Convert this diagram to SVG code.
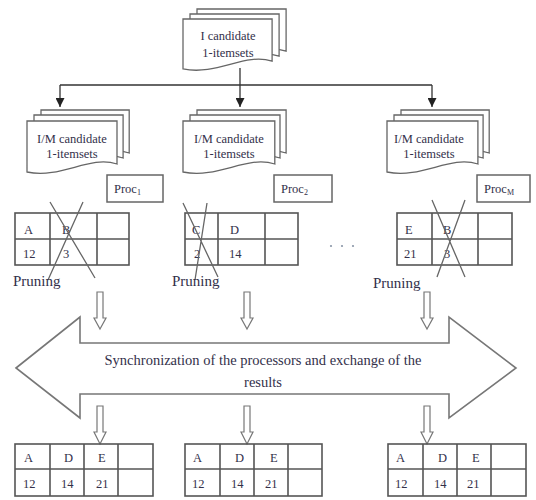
<svg xmlns="http://www.w3.org/2000/svg" width="536" height="500" viewBox="0 0 536 500">
<style>
  text { font-family: "Liberation Serif", "Times New Roman", serif; fill: #33304a; }
  .doc { fill: #fff; stroke: #666; stroke-width: 1.3; }
  .box { fill: #fff; stroke: #666; stroke-width: 1.5; }
  .grid { fill: none; stroke: #555; stroke-width: 1.6; }
  .cross { stroke: #666; stroke-width: 1.3; fill: none; }
  .conn { stroke: #333; stroke-width: 1.3; fill: none; }
  .hollow { fill: #fff; stroke: #777; stroke-width: 1.2; }
  .big { fill: #fff; stroke: #777; stroke-width: 1.6; }
  .t12 { font-size: 12.5px; }
  .t13 { font-size: 14.5px; }
  .t15 { font-size: 15px; }
</style>
<defs>
  <marker id="ah" viewBox="0 0 10 10" refX="10" refY="5" markerWidth="9" markerHeight="9" markerUnits="userSpaceOnUse" orient="auto">
    <path d="M0,0 L10,5 L0,10 Z" fill="#222"/>
  </marker>
  <path id="docShape" d="M0,0 H90 V43 C62,34 35,58 0,51 Z"/>
  <path id="hArrowUp" d="M-3,0 H3 V26 H6 L0,37 L-6,26 H-3 Z"/>
  <path id="hArrowLow" d="M-3,0 H3 V26 H6 L0,38 L-6,26 H-3 Z"/>
</defs>

<rect width="536" height="500" fill="#fff"/>

<!-- Top document -->
<g id="top-doc">
  <use href="#docShape" class="doc" transform="translate(197,9) scale(0.99,0.98)"/>
  <use href="#docShape" class="doc" transform="translate(190,14) scale(0.99,0.98)"/>
  <use href="#docShape" class="doc" transform="translate(183,19) scale(0.99,0.98)"/>
  <text class="t12" x="228" y="40" text-anchor="middle">I candidate</text>
  <text class="t12" x="228" y="57" text-anchor="middle">1-itemsets</text>
</g>

<!-- Connectors -->
<g id="connectors">
  <path class="conn" d="M240,68 V85"/>
  <path class="conn" d="M60,85 H432"/>
  <path class="conn" d="M60,85 V107" marker-end="url(#ah)"/>
  <path class="conn" d="M240,85 V107" marker-end="url(#ah)"/>
  <path class="conn" d="M432,85 V107" marker-end="url(#ah)"/>
</g>

<!-- Middle documents -->
<g id="doc-1">
  <use href="#docShape" class="doc" transform="translate(41,110) scale(0.98,1)"/>
  <use href="#docShape" class="doc" transform="translate(34,115) scale(0.99,1)"/>
  <use href="#docShape" class="doc" transform="translate(27,121)"/>
  <text class="t12" x="72" y="143" text-anchor="middle">I/M candidate</text>
  <text class="t12" x="72" y="158" text-anchor="middle">1-itemsets</text>
</g>
<g id="doc-2">
  <use href="#docShape" class="doc" transform="translate(197,110) scale(0.99,1)"/>
  <use href="#docShape" class="doc" transform="translate(190,115) scale(1,1)"/>
  <use href="#docShape" class="doc" transform="translate(183,121) scale(1.02,1)"/>
  <text class="t12" x="229" y="143" text-anchor="middle">I/M candidate</text>
  <text class="t12" x="229" y="158" text-anchor="middle">1-itemsets</text>
</g>
<g id="doc-3">
  <use href="#docShape" class="doc" transform="translate(401,110) scale(0.98,1)"/>
  <use href="#docShape" class="doc" transform="translate(394,115) scale(0.99,1)"/>
  <use href="#docShape" class="doc" transform="translate(387,121) scale(1.01,1)"/>
  <text class="t12" x="429" y="143" text-anchor="middle">I/M candidate</text>
  <text class="t12" x="429" y="158" text-anchor="middle">1-itemsets</text>
</g>

<!-- Proc boxes -->
<g id="proc-1">
  <rect class="box" x="107" y="175" width="56" height="27"/>
  <text class="t12" x="114" y="193">Proc<tspan font-size="8" dy="2">1</tspan></text>
</g>
<g id="proc-2">
  <rect class="box" x="274" y="175" width="58" height="27"/>
  <text class="t12" x="281" y="193">Proc<tspan font-size="8" dy="2">2</tspan></text>
</g>
<g id="proc-m">
  <rect class="box" x="477" y="175" width="53" height="27"/>
  <text class="t12" x="484" y="193">Proc<tspan font-size="8" dy="2">M</tspan></text>
</g>

<!-- Upper tables -->
<g id="table-1">
  <rect class="grid" x="15" y="213" width="114" height="52"/>
  <path class="grid" d="M15,239 H129 M50,213 V265 M97,213 V265"/>
  <text class="t12" x="24" y="234">A</text>
  <text class="t12" x="62" y="234">B</text>
  <text class="t12" x="23" y="258">12</text>
  <text class="t12" x="63" y="258">3</text>
  <path class="cross" d="M50,202 L95,278 M83,202 L48,280"/>
  <text class="t15" x="13" y="286">Pruning</text>
</g>
<g id="table-2">
  <rect class="grid" x="185" y="213" width="113" height="52"/>
  <path class="grid" d="M185,239 H298 M218,213 V265 M265,213 V265"/>
  <text class="t12" x="192" y="234">C</text>
  <text class="t12" x="230" y="234">D</text>
  <text class="t12" x="194" y="258">2</text>
  <text class="t12" x="229" y="258">14</text>
  <path class="cross" d="M183,203 L218,277 M207,203 L195,280"/>
  <text class="t15" x="172" y="286">Pruning</text>
</g>
<g id="dots">
  <circle cx="331" cy="246" r="1.1" fill="#8a96a8"/>
  <circle cx="342" cy="246" r="1.1" fill="#8a96a8"/>
  <circle cx="353" cy="246" r="1.1" fill="#8a96a8"/>
</g>
<g id="table-3">
  <rect class="grid" x="397" y="213" width="115" height="52"/>
  <path class="grid" d="M397,239 H512 M432,213 V265 M478,213 V265"/>
  <text class="t12" x="405" y="234">E</text>
  <text class="t12" x="443" y="234">B</text>
  <text class="t12" x="404" y="258">21</text>
  <text class="t12" x="444" y="258">3</text>
  <path class="cross" d="M432,200 L465,277 M465,200 L437,277"/>
  <text class="t15" x="373" y="288">Pruning</text>
</g>

<!-- Upper hollow arrows -->
<g id="up-arrows">
  <use href="#hArrowUp" class="hollow" transform="translate(100,292)"/>
  <use href="#hArrowUp" class="hollow" transform="translate(247,292)"/>
  <use href="#hArrowUp" class="hollow" transform="translate(427,292)"/>
</g>

<!-- Big double arrow -->
<g id="sync">
  <path class="big" d="M16,368 L80,317 V343 H449 V317 L516,368 L449,418 V394 H80 V418 Z"/>
  <text class="t13" x="263" y="365" text-anchor="middle">Synchronization of the processors and exchange of the</text>
  <text class="t13" x="263" y="387" text-anchor="middle">results</text>
</g>

<!-- Lower hollow arrows -->
<g id="low-arrows">
  <use href="#hArrowLow" class="hollow" transform="translate(100,406)"/>
  <use href="#hArrowLow" class="hollow" transform="translate(247,406)"/>
  <use href="#hArrowLow" class="hollow" transform="translate(427,406)"/>
</g>

<!-- Lower tables -->
<g id="result-1">
  <rect class="grid" x="15" y="444" width="138" height="52"/>
  <path class="grid" d="M15,469 H153 M50,444 V496 M84,444 V496 M118,444 V496"/>
  <text class="t12" x="24" y="462">A</text>
  <text class="t12" x="64" y="462">D</text>
  <text class="t12" x="98" y="462">E</text>
  <text class="t12" x="23" y="488">12</text>
  <text class="t12" x="61" y="488">14</text>
  <text class="t12" x="96" y="488">21</text>
</g>
<g id="result-2">
  <rect class="grid" x="185" y="444" width="137" height="52"/>
  <path class="grid" d="M185,469 H322 M220,444 V496 M254,444 V496 M288,444 V496"/>
  <text class="t12" x="193" y="462">A</text>
  <text class="t12" x="235" y="462">D</text>
  <text class="t12" x="270" y="462">E</text>
  <text class="t12" x="192" y="488">12</text>
  <text class="t12" x="231" y="488">14</text>
  <text class="t12" x="265" y="488">21</text>
</g>
<g id="result-3">
  <rect class="grid" x="388" y="444" width="138" height="52"/>
  <path class="grid" d="M388,469 H526 M423,444 V496 M457,444 V496 M491,444 V496"/>
  <text class="t12" x="396" y="462">A</text>
  <text class="t12" x="438" y="462">D</text>
  <text class="t12" x="472" y="462">E</text>
  <text class="t12" x="395" y="488">12</text>
  <text class="t12" x="434" y="488">14</text>
  <text class="t12" x="467" y="488">21</text>
</g>
</svg>
